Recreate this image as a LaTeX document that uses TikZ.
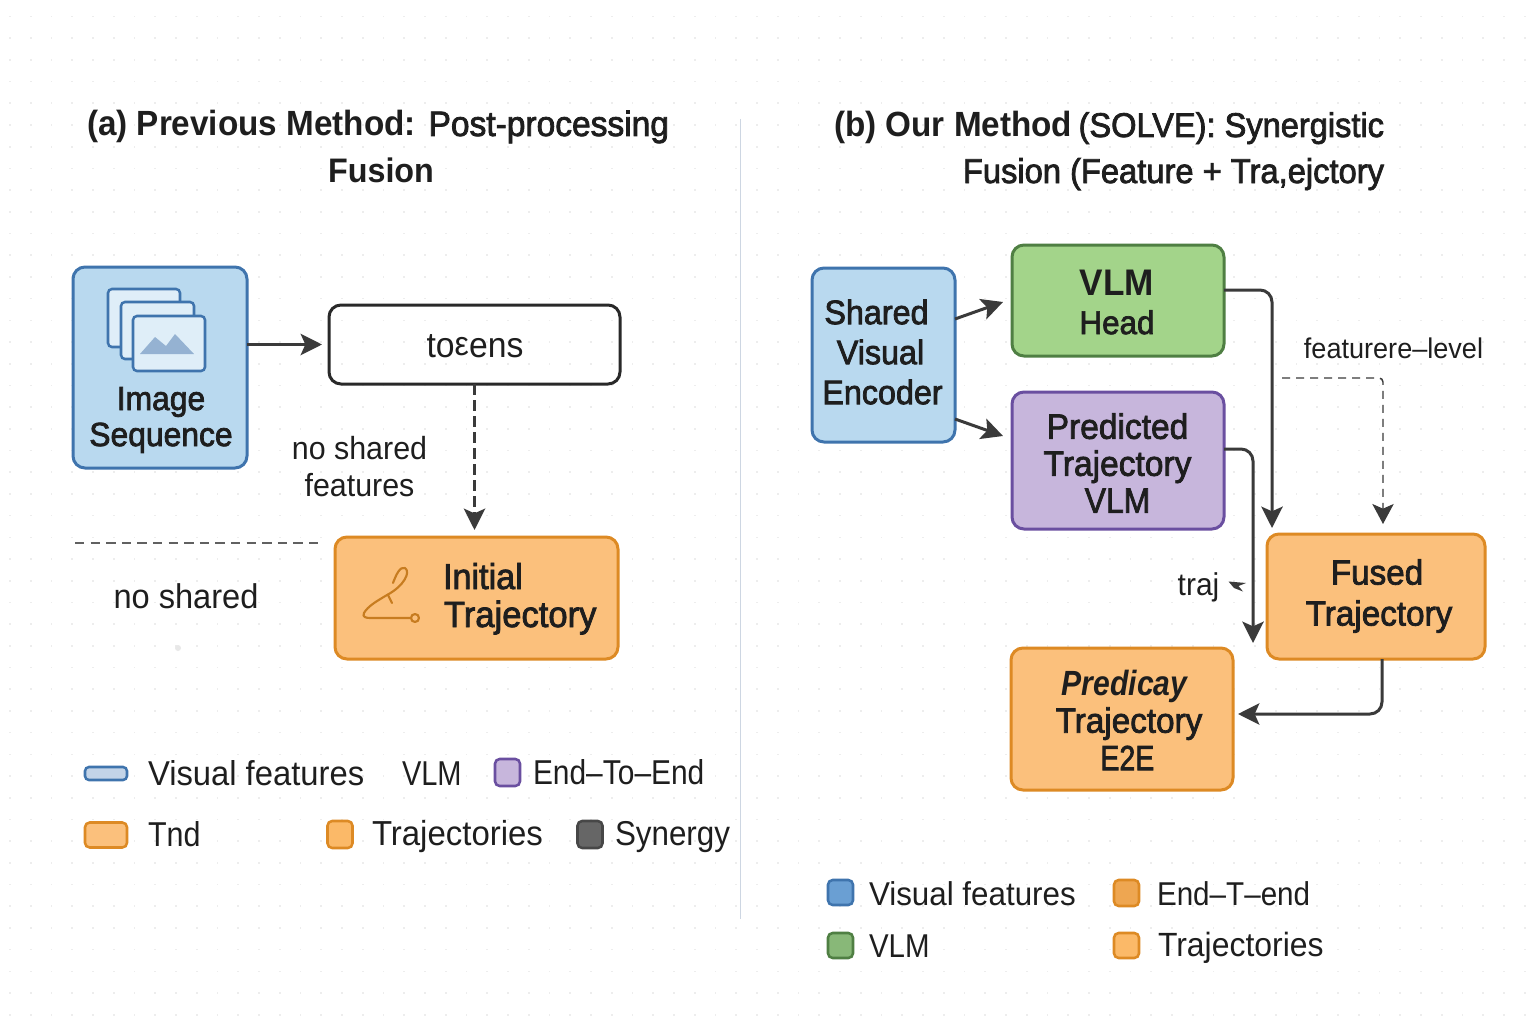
\documentclass[tikz,border=0pt]{standalone}
\usepackage{fontspec}
\usetikzlibrary{arrows.meta,calc}
\setmainfont[FakeStretch=0.95]{Liberation Sans}
\newfontfamily\medf[FakeStretch=0.95,RawFeature={embolden=2.2}]{Liberation Sans}
\newfontfamily\boldf[FakeStretch=0.95]{Liberation Sans Bold}
\newfontfamily\boldit[FakeStretch=0.95]{Liberation Sans Bold Italic}
\newcommand\px[2]{\fontsize{\fpeval{#1*0.75}}{\fpeval{#2*0.75}}\selectfont}
\definecolor{ink}{HTML}{1E1E1E}
\definecolor{arrowc}{HTML}{3A3A3A}
\definecolor{bluef}{HTML}{B9D9EF}
\definecolor{blued}{HTML}{3F74AD}
\definecolor{orangef}{HTML}{FBC07C}
\definecolor{oranged}{HTML}{DD8A24}
\definecolor{greenf}{HTML}{A3D48A}
\definecolor{greend}{HTML}{4F7F43}
\definecolor{purplef}{HTML}{C7B6DC}
\definecolor{purpled}{HTML}{6A4FA0}
\definecolor{sepc}{HTML}{CDD6E2}
\definecolor{swa}{HTML}{C3D4E8}
\definecolor{swb}{HTML}{6A9FD3}
\definecolor{swc}{HTML}{EEA651}
\definecolor{swd}{HTML}{88B878}
\definecolor{swe}{HTML}{FBB968}
\tikzset{
  wh/.style 2 args={minimum width=#1*0.75pt,minimum height=#2*0.75pt},
  boxn/.style={draw,line width=2.25pt,rounded corners=9pt,inner sep=0pt,outer sep=0pt},
  bluebox/.style={boxn,fill=bluef,draw=blued},
  orangebox/.style={boxn,fill=orangef,draw=oranged},
  greenbox/.style={boxn,fill=greenf,draw=greend},
  purplebox/.style={boxn,fill=purplef,draw=purpled},
  plainbox/.style={boxn,draw=ink!95},
  swatch/.style={draw,line width=1.9pt,rounded corners=3.5pt,inner sep=0pt,outer sep=0pt},
  lbl/.style={text=ink,inner sep=0pt,outer sep=0pt,align=center},
  leg/.style={text=ink,inner sep=0pt,outer sep=0pt,anchor=base west},
  conn/.style={draw=arrowc,line width=2.25pt,-{Stealth[length=16pt,width=16pt,inset=3.5pt]}},
  round conn/.style={conn,rounded corners=9pt},
  dashconn/.style={conn,dash pattern=on 8pt off 4pt},
  thinconn/.style={draw=arrowc,line width=1.1pt,dash pattern=on 6pt off 4.5pt,rounded corners=3pt,
    -{Stealth[length=15pt,width=16pt,inset=3.5pt]}},
  iconframe/.style={draw=blued,fill=#1,line width=1.9pt,rounded corners=3pt},
  trajicon/.style={draw=oranged!90!black,line width=1.6pt,line cap=round,line join=round}
}
\begin{document}
\begin{tikzpicture}[x=0.75pt,y=-0.75pt]
\useasboundingbox (0,0) rectangle (1536,1024);
\fill[white] (0,0) rectangle (1536,1024);
% faint dotted page grid
\foreach \i in {0,...,73}{\foreach \j in {0,...,46}{
  \fill[black!7] ({10+20.75*\i-0.8},{16.5+21.7*\j-0.8}) rectangle ++(1.6,1.6);
}}
\fill[black!9] (178,648) circle (3);
% panel separator
\coordinate (sepTop) at (740.5,119);
\coordinate (sepBot) at (740.5,919);
\draw[draw=sepc,line width=0.9pt] (sepTop) -- (sepBot);
% titles
\node[lbl,anchor=base west,font=\px{35}{40}] (ta1) at (87,136) {\boldf (a) Previous Method:};
\node[lbl,anchor=base east,font=\px{35.3}{40}] (ta1b) at (669,136) {\medf Post-processing};
\node[lbl,anchor=base,font=\px{34}{40}] (ta2) at (381,182) {\boldf Fusion};
\node[lbl,anchor=base west,font=\px{35}{40}] (tb1a) at (834,137) {\boldf (b) Our Method};
\node[lbl,anchor=base east,font=\px{34.3}{40}] (tb1b) at (1384,137) {\medf (SOLVE): Synergistic};
\node[lbl,anchor=base east,font=\px{34.4}{40}] (tb2) at (1384,183) {\medf Fusion (Feature + Tra,ejctory};
% panel (a) boxes
\node[bluebox,wh={174}{201}] (img) at (160,367.5) {};
\node[plainbox,wh={291}{79}] (tok) at (474.5,344.5) {};
\node[orangebox,wh={283}{122}] (init) at (476.5,598) {};
% image-stack icon
\draw[iconframe=bluef!45!white] (108,289) rectangle (180,347);
\draw[iconframe=bluef!45!white] (121,302) rectangle (194,359);
\draw[iconframe=bluef!45!white] (133,316) rectangle (205,371);
\fill[blued!55!white] (140,354) -- (155,337) -- (166,346) -- (175,334) -- (194,354) -- cycle;
\node[lbl,font=\px{33.5}{36}] (imgl) at (161,420) {\medf Image\\\medf Sequence};
\node[lbl,font=\px{35.5}{36}] (tokl) at (475,346) {to\raisebox{1pt}{\scalebox{0.95}{ε}}ens};
% trajectory icon
\draw[trajicon] (393,583) .. controls (396,575) and (400,566) .. (405,568)
  .. controls (411,572) and (404,586) .. (387,595)
  .. controls (377,601) and (368,606) .. (364,613)
  .. controls (362,617) and (366,618) .. (370,618) -- (411,618);
\draw[trajicon] (415,618) circle (4);
\draw[trajicon] (388,595) -- (392,603);
\node[lbl,anchor=base west,font=\px{36}{38}] (initl1) at (443,589) {\medf Initial};
\node[lbl,anchor=base west,font=\px{36.4}{38}] (initl2) at (444,627) {\medf Trajectory};
% panel (a) connectors and labels
\draw[conn] (img.east |- tok.west) -- ($(tok.west)+(-7,0)$);
\draw[dashconn] (tok.south) -- ($(tok.south |- init.north)+(0,-7)$);
\node[lbl,font=\px{32}{37}] (nosf) at (359.5,467) {no shared\\features};
\node[lbl,font=\px{34.3}{36}] (nos) at (186,596) {no shared};
\coordinate (divL) at (75,543);
\coordinate (divR) at (319,543);
\draw[draw=black!62,line width=1.5pt,dash pattern=on 7pt off 4.7pt] (divL) -- (divR);
% legend (a)
\node[swatch,fill=swa,draw=blued,wh={42}{13},rounded corners=3pt] (sa1) at (106,773.5) {};
\node[leg,font=\px{34.5}{36}] (la1) at (148,785) {Visual features};
\node[leg,font=\px{34.5}{36}] (la2) at (402,785) {\scalebox{0.885}[1]{VLM}};
\node[swatch,fill=purplef,draw=purpled,wh={25}{27}] (sa3) at (507.5,772.5) {};
\node[leg,font=\px{34.5}{36}] (la3) at (533,784) {\scalebox{0.913}[1]{End–To–End}};
\node[swatch,fill=orangef,draw=oranged,wh={42}{25}] (sa4) at (106,835) {};
\node[leg,font=\px{34.5}{36}] (la4) at (148,846) {\scalebox{0.93}[1]{Tnd}};
\node[swatch,fill=swe,draw=oranged,wh={25}{27}] (sa5) at (340,834.5) {};
\node[leg,font=\px{34.7}{36}] (la5) at (372,845) {Trajectories};
\node[swatch,fill=black!60,draw=black!72,wh={25}{27}] (sa6) at (590,834.5) {};
\node[leg,font=\px{34.5}{36}] (la6) at (615,845) {\scalebox{0.957}[1]{Synergy}};
% panel (b) boxes
\node[bluebox,wh={143}{174}] (enc) at (883.5,355) {};
\node[greenbox,wh={212}{111}] (vlm) at (1118,300.5) {};
\node[purplebox,wh={212}{137}] (pred) at (1118,460.5) {};
\node[orangebox,wh={218}{125}] (fused) at (1376,596.5) {};
\node[orangebox,wh={222}{142}] (e2e) at (1122,719) {};
\node[lbl,font=\px{34}{40}] (encl) at (882.5,352) {\medf Shared\kern 9pt\\\medf Visual\kern 3pt\\\medf Encoder};
\node[lbl,font=\px{37}{39}] (vlml) at (1117,302) {{\boldf VLM}\\{\px{33}{39}\medf Head}};
\node[lbl,font=\px{35.3}{37}] (predl) at (1117.5,463) {\medf Predicted\\\medf Trajectory\\\scalebox{0.95}[1]{\medf VLM}};
\node[lbl,font=\px{35}{41}] (fusedl) at (1379,596) {\medf Fused\kern 3pt\\\medf Trajectory};
\node[lbl,font=\px{35}{37.5}] (e2el) at (1129,720) {\scalebox{0.906}[1]{\boldit Predicay}\kern 6.75pt\\\medf Trajectory\\\scalebox{0.857}[1]{\medf E2E}\kern 2.5pt};
% panel (b) connectors
\coordinate (dashStart) at (1282,378);
\coordinate (tips) at (1253,643);
\draw[conn] ($(enc.east)+(0,-36)$) -- ($(vlm.west)+(-9,1.5)$);
\draw[conn] ($(enc.east)+(0,64)$) -- ($(pred.west)+(-9,-24.5)$);
\draw[round conn] ($(vlm.east)+(0,-10.5)$) -| ($(fused.north west)+(5,-6)$);
\draw[round conn] ($(pred.east)+(0,-11.5)$) -| (tips);
\draw[round conn] ($(fused.south)+(6,0)$) |- ($(e2e.east)+(5,-5)$);
\draw[thinconn] (dashStart) -| ($(fused.north)+(7,-10)$);
\node[lbl,font=\px{28.5}{32}] (featl) at (1393.5,348) {featurere–level};
\node[lbl,font=\px{31.5}{32}] (trajl) at (1198.5,587.5) {traj};
\fill[arrowc] (1228.5,581.5) -- (1246,583) -- (1238.5,586) -- (1243,591.5) -- (1234,588) -- cycle;
% legend (b)
\node[swatch,fill=swb,draw=blued,wh={25}{25}] (sb1) at (840.5,892.5) {};
\node[leg,font=\px{33}{36}] (lb1) at (869,905) {Visual features};
\node[swatch,fill=swc,draw=oranged,wh={25}{26}] (sb2) at (1126.5,893) {};
\node[leg,font=\px{33}{36}] (lb2) at (1157,905) {\scalebox{0.945}[1]{End–T–end}};
\node[swatch,fill=swd,draw=greend,wh={25}{25}] (sb3) at (840.5,945.5) {};
\node[leg,font=\px{33}{36}] (lb3) at (869,957) {\scalebox{0.94}[1]{VLM}};
\node[swatch,fill=swe,draw=oranged,wh={25}{25}] (sb4) at (1126.5,945.5) {};
\node[leg,font=\px{33.6}{36}] (lb4) at (1158,956) {Trajectories};
\end{tikzpicture}
\end{document}
